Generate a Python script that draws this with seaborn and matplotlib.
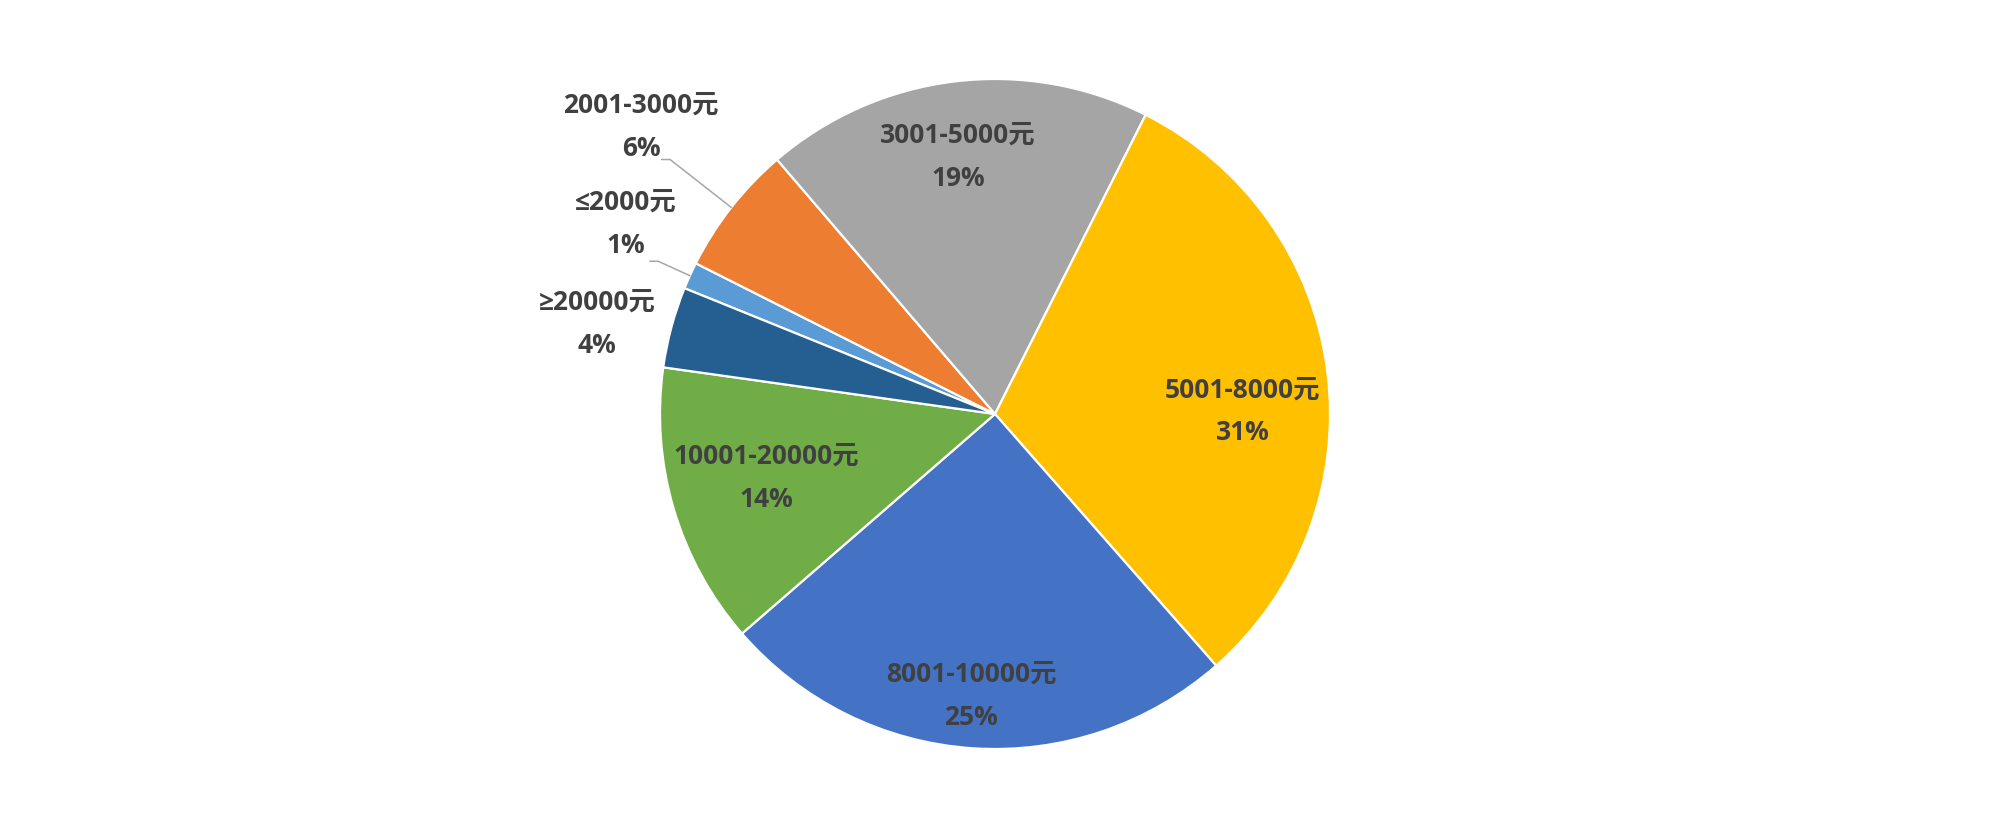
import numpy as np
import matplotlib
matplotlib.use("Agg")
import matplotlib.pyplot as plt
import seaborn as sns

# ---- data ----
categories = ["≤2000元", "2001-3000元", "3001-5000元", "5001-8000元",
              "8001-10000元", "10001-20000元", "≥20000元"]
shares = [1.3, 6.3, 18.7, 31.1, 25.1, 13.6, 3.9]
colors_hex = ["#5B9BD5", "#ED7D31", "#A5A5A5", "#FFC000",
              "#4472C4", "#70AD47", "#255E91"]

# ---- label placement (style) ----
label_r = [1.239, 1.361, 0.776, 0.740, 0.845, 0.710, 1.218]
label_shift = [2.9, 1.0, -1.2, 6.7, 1.0, 0.9, -2.3]  # degrees clockwise
leader = {0: 1.104, 1: 1.232}  # wedges with leader lines -> elbow radius

sns.set_theme(style="white")
plt.rcParams["font.family"] = ["Open Sans", "Noto Sans CJK SC", "DejaVu Sans"]
palette = sns.color_palette(colors_hex)

fig = plt.figure(figsize=(19.92, 8.24), dpi=100)
ax = fig.add_axes([660 / 1992, (824 - 749) / 824, 670 / 1992, 670 / 824])

wedges, _ = ax.pie(shares, colors=palette, startangle=157.95, counterclock=False,
                   radius=1.0,
                   wedgeprops=dict(edgecolor="white", linewidth=1.6))
ax.set_xlim(-1, 1)
ax.set_ylim(-1, 1)
ax.set_aspect("equal")
ax.axis("off")

total = sum(shares)
txt_color = "#404040"
fs = 19
for i, (w, cat, v) in enumerate(zip(wedges, categories, shares)):
    mid = np.deg2rad((w.theta1 + w.theta2) / 2)
    ang = mid - np.deg2rad(label_shift[i])
    x, y = label_r[i] * np.cos(ang), label_r[i] * np.sin(ang)
    ax.annotate(cat, (x, y), xytext=(0, 15.5), textcoords="offset points",
                ha="center", va="center", fontsize=fs, fontweight="bold",
                color=txt_color, annotation_clip=False)
    ax.annotate(f"{v / total * 100:.0f}%", (x, y), xytext=(0, -15.5),
                textcoords="offset points", ha="center", va="center",
                fontsize=fs, fontweight="bold", color=txt_color,
                annotation_clip=False)
    if i in leader:
        re = leader[i]
        x0, y0 = np.cos(mid), np.sin(mid)
        x1, y1 = re * np.cos(mid), re * np.sin(mid)
        ax.plot([x0, x1, x1 - 0.025], [y0, y1, y1], color="#A6A6A6",
                lw=1.1, clip_on=False, solid_joinstyle="miter")

fig.savefig("out.png", dpi=100, facecolor="white")
